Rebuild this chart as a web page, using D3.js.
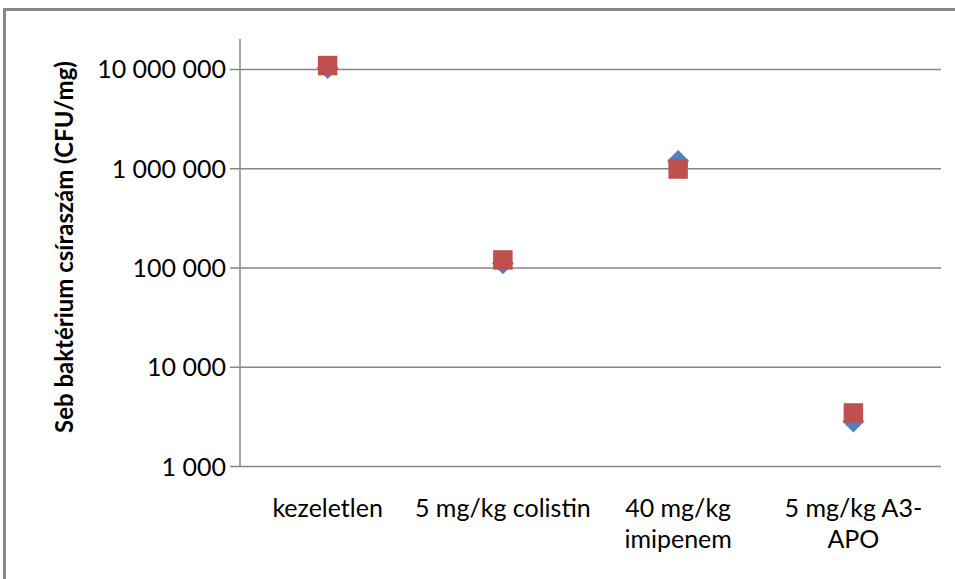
<!DOCTYPE html>
<html>
<head>
<meta charset="utf-8">
<script src="https://cdn.jsdelivr.net/npm/d3@7"></script>
<style>
  body { margin: 0; background: #fff; }
</style>
</head>
<body>
<script>
// Data
var categories = ["kezeletlen", "5 mg/kg colistin", "40 mg/kg\nimipenem", "5 mg/kg A3-\nAPO"];
var seriesBlue = [10200000, 110000, 1180000, 2800];
var seriesRed = [10800000, 119000, 980000, 3420];
var tickValues = [1000, 10000, 100000, 1000000, 10000000];
var yTitle = "Seb baktérium csíraszám (CFU/mg)";

var w = 955;
var h = 579;
var font = "Lato, Calibri, 'Open Sans', sans-serif";

var svg = d3.select("body")
  .append("svg")
  .attr("width", w)
  .attr("height", h);

svg.append("rect")
  .attr("width", w)
  .attr("height", h)
  .attr("fill", "#fff");

// chart frame (right and bottom fall outside the picture)
svg.append("rect")
  .attr("x", 4.5)
  .attr("y", 9.5)
  .attr("width", 1200)
  .attr("height", 1200)
  .attr("fill", "none")
  .attr("stroke", "#868686")
  .attr("stroke-width", 3);

var plot = { left: 240, right: 941, top: 39, bottom: 466 };

var x = d3.scaleBand()
  .domain(categories)
  .range([plot.left, plot.right]);

var y = d3.scaleLog()
  .domain([1000, 20000000])
  .range([plot.bottom, plot.top]);

var format = function(v) { return d3.format(",")(v).replace(/,/g, " "); };

// gridlines + ticks
var yAxis = d3.axisLeft(y)
  .tickValues(tickValues)
  .tickSize(-(plot.right - plot.left))
  .tickFormat("");

var gy = svg.append("g")
  .attr("transform", "translate(" + plot.left + ",0)")
  .call(yAxis);
gy.select(".domain").remove();
gy.selectAll(".tick line")
  .attr("x1", -10)
  .attr("stroke", "#868686")
  .attr("stroke-width", 1.5);

gy.selectAll(".tick").append("text")
  .attr("x", -14)
  .attr("dy", "0.36em")
  .attr("text-anchor", "end")
  .attr("fill", "#000")
  .attr("font-family", font)
  .attr("font-size", "25px")
  .text(function(d) { return format(d); });

// y axis line
svg.append("line")
  .attr("x1", plot.left)
  .attr("x2", plot.left)
  .attr("y1", plot.top)
  .attr("y2", plot.bottom)
  .attr("stroke", "#868686")
  .attr("stroke-width", 1.5);

// category labels
var cat = svg.append("g").selectAll("text")
  .data(categories)
  .enter().append("text")
  .attr("text-anchor", "middle")
  .attr("font-family", font)
  .attr("font-size", "25px")
  .attr("fill", "#000");

cat.selectAll("tspan")
  .data(function(d) {
    var lines = d.split("\n");
    return lines.map(function(l) { return { line: l, cat: d }; });
  })
  .enter().append("tspan")
  .attr("x", function(d) { return x(d.cat) + x.bandwidth() / 2; })
  .attr("y", function(d, i) { return 517 + i * 31; })
  .text(function(d) { return d.line; });

// y title
svg.append("text")
  .attr("transform", "translate(73," + 247 + ") rotate(-90)")
  .attr("text-anchor", "middle")
  .attr("font-family", font)
  .attr("font-weight", "bold")
  .attr("font-size", "24px")
  .attr("fill", "#000")
  .text(yTitle);

// markers
var cx = function(i) { return x(categories[i]) + x.bandwidth() / 2; };

svg.append("g").selectAll("path")
  .data(seriesBlue)
  .enter().append("path")
  .attr("d", d3.symbol().type(d3.symbolSquare).size(240))
  .attr("transform", function(d, i) { return "translate(" + cx(i) + "," + y(d) + ") rotate(45)"; })
  .attr("fill", "#4F81BD");

svg.append("g").selectAll("path")
  .data(seriesRed)
  .enter().append("path")
  .attr("d", d3.symbol().type(d3.symbolSquare).size(380))
  .attr("transform", function(d, i) { return "translate(" + cx(i) + "," + y(d) + ")"; })
  .attr("fill", "#C0504D");
</script>
</body>
</html>
